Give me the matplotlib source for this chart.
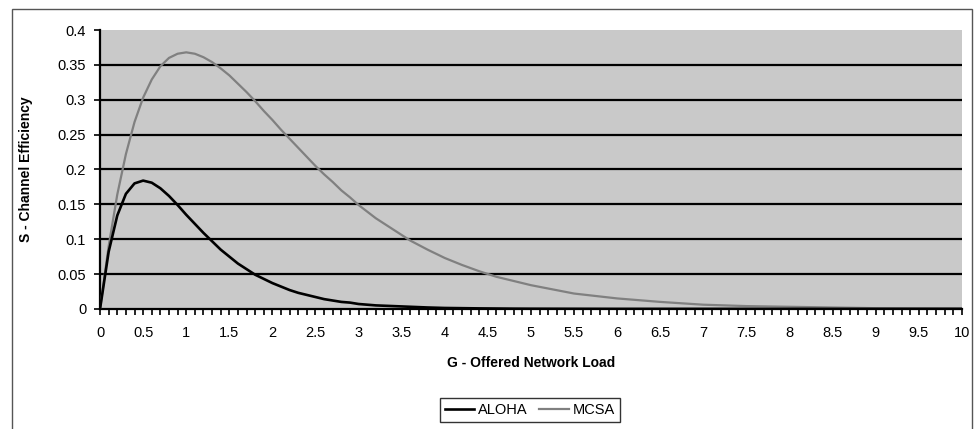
import matplotlib.pyplot as plt
from matplotlib.ticker import MultipleLocator
from matplotlib.patches import Rectangle

# offered load G and the two efficiency curves
G = [0, 0.1, 0.2, 0.3, 0.4, 0.5, 0.6, 0.7, 0.8, 0.9, 1.0,
     1.1, 1.2, 1.3, 1.4, 1.5, 1.6, 1.7, 1.8, 1.9, 2.0,
     2.1, 2.2, 2.3, 2.4, 2.5, 2.6, 2.7, 2.8, 2.9, 3.0,
     3.2, 3.4, 3.6, 3.8, 4.0, 4.2, 4.4, 4.6, 4.8, 5.0,
     5.5, 6.0, 6.5, 7.0, 7.5, 8.0, 8.5, 9.0, 9.5, 10.0]
aloha = [0, 0.082, 0.134, 0.165, 0.180, 0.184, 0.181, 0.173, 0.162, 0.149, 0.135,
         0.122, 0.109, 0.097, 0.085, 0.075, 0.065, 0.057, 0.049, 0.043, 0.037,
         0.032, 0.027, 0.023, 0.020, 0.017, 0.014, 0.012, 0.010, 0.009, 0.007,
         0.005, 0.004, 0.003, 0.002, 0.0013, 0.001, 0.0007, 0.0005, 0.0003, 0.0002,
         0.0001, 0, 0, 0, 0, 0, 0, 0, 0, 0]
mcsa = [0, 0.090, 0.164, 0.222, 0.268, 0.303, 0.329, 0.348, 0.360, 0.366, 0.368,
        0.366, 0.361, 0.354, 0.345, 0.335, 0.323, 0.311, 0.298, 0.284, 0.271,
        0.257, 0.244, 0.231, 0.218, 0.205, 0.193, 0.182, 0.170, 0.160, 0.149,
        0.130, 0.114, 0.098, 0.085, 0.073, 0.063, 0.054, 0.046, 0.040, 0.034,
        0.022, 0.015, 0.010, 0.006, 0.004, 0.003, 0.002, 0.001, 0.0007, 0.0005]

x_ticks = [i * 0.5 for i in range(21)]
x_labels = ['0', '0.5', '1', '1.5', '2', '2.5', '3', '3.5', '4', '4.5', '5',
            '5.5', '6', '6.5', '7', '7.5', '8', '8.5', '9', '9.5', '10']
y_ticks = [0, 0.05, 0.1, 0.15, 0.2, 0.25, 0.3, 0.35, 0.4]
y_labels = ['0', '0.05', '0.1', '0.15', '0.2', '0.25', '0.3', '0.35', '0.4']

plt.rcParams['font.family'] = ['Liberation Sans', 'DejaVu Sans']

fig = plt.figure(figsize=(9.76, 4.29), dpi=100)
ax = fig.add_axes([0.1025, 0.280, 0.883, 0.650])
ax.set_facecolor('#c9c9c9')

# horizontal gridlines
for yv in y_ticks[1:-1]:
    ax.axhline(yv, color='black', lw=1.6, zorder=1)

ax.plot(G, mcsa, color='#808080', lw=1.6, label='MCSA', zorder=3)
ax.plot(G, aloha, color='black', lw=1.9, label='ALOHA', zorder=3)

ax.set_xlim(0, 10)
ax.set_ylim(0, 0.4)
ax.set_xticks(x_ticks)
ax.set_xticklabels(x_labels, fontsize=10.5)
ax.set_yticks(y_ticks)
ax.set_yticklabels(y_labels, fontsize=10.5)
ax.xaxis.set_minor_locator(MultipleLocator(0.1))
ax.tick_params(axis='x', which='both', direction='out', length=4, width=1.2, pad=8)
ax.tick_params(axis='y', direction='out', length=4, width=1.2, pad=6)

for side in ['top', 'right']:
    ax.spines[side].set_visible(False)
ax.spines['left'].set_linewidth(1.6)
ax.spines['bottom'].set_linewidth(1.6)

ax.set_xlabel('G - Offered Network Load', fontsize=10, fontweight='bold', labelpad=12)
ax.set_ylabel('S - Channel Efficiency', fontsize=10, fontweight='bold', labelpad=18)

h, l = ax.get_legend_handles_labels()
leg = fig.legend(h[::-1], l[::-1], loc='center', bbox_to_anchor=(0.543, 0.045),
                 ncol=2, fontsize=10.5, frameon=True, fancybox=False,
                 handlelength=2.0, handletextpad=0.3, columnspacing=0.8,
                 borderpad=0.35)
leg.get_frame().set_edgecolor('black')
leg.get_frame().set_linewidth(1.0)

# outer chart border
fig.patches.append(Rectangle((0.012, -0.01), 0.984, 0.988, transform=fig.transFigure,
                             fill=False, edgecolor='#555555', lw=1.0))

fig.savefig('out.png', dpi=100)
